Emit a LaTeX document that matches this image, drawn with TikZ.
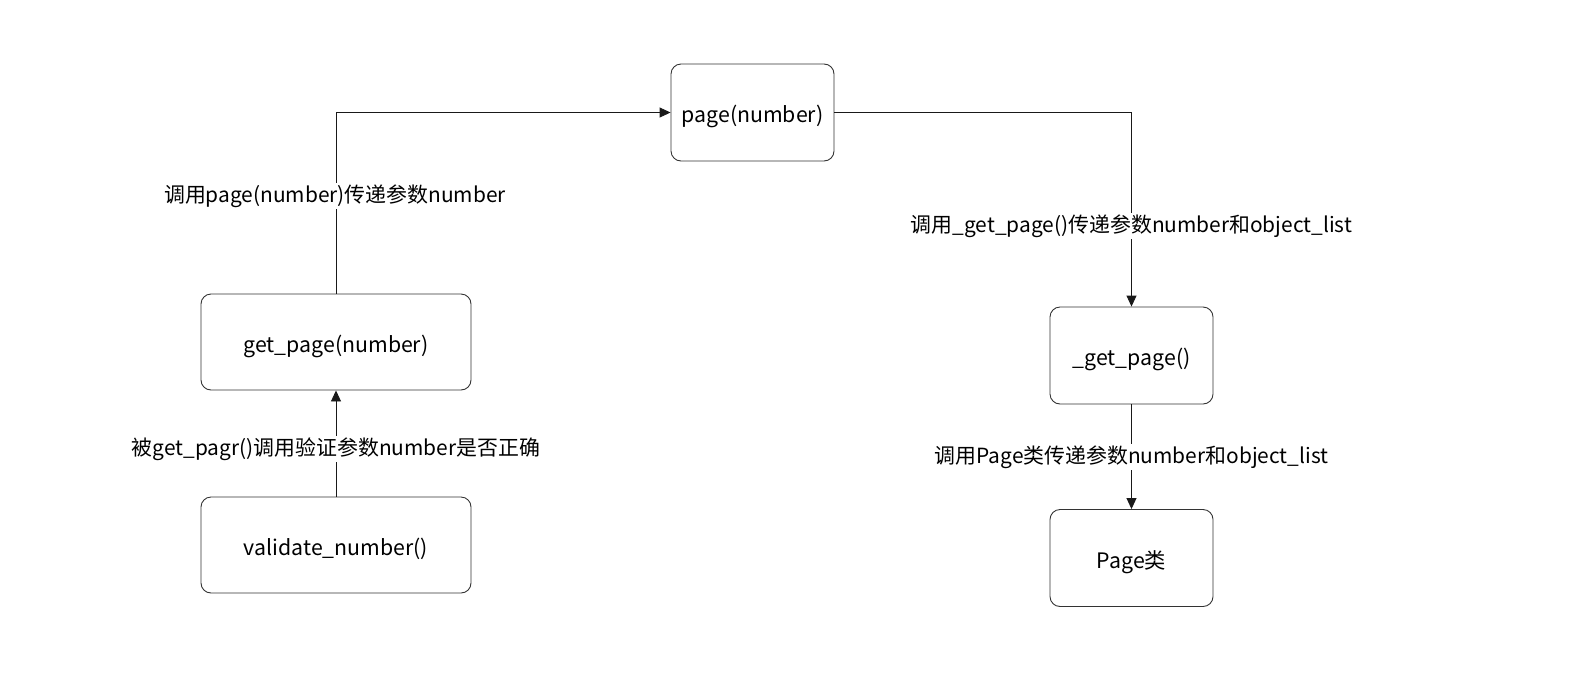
\documentclass[tikz,border=0pt]{standalone}
\usepackage{fontspec}
\setmainfont{Noto Sans CJK SC}
\usetikzlibrary{arrows.meta}
\begin{document}
\begin{tikzpicture}[x=1pt,y=-1pt,
  box/.style={draw=black!80,line width=0.9pt,rounded corners=10pt,font=\fontsize{21.3}{24}\selectfont,inner sep=0pt,text depth=0pt},
  small/.style={box,minimum width=163pt,minimum height=97pt},
  wide/.style={box,minimum width=270pt,minimum height=96pt},
  conn/.style={draw=black!90,line width=0.9pt,-{Triangle[length=11pt,width=10pt]}},
  lbl/.style={fill=white,inner sep=2pt,font=\fontsize{20.9}{24}\selectfont}]
\useasboundingbox (0,0) rectangle (1577,686);
\node[small] (page) at (752.5,112.5) {\raisebox{-3pt}{page(number)}};
\node[wide] (get) at (336,342) {\raisebox{-3pt}{get\_page(number)}};
\node[wide] (val) at (336,545) {\raisebox{-3pt}{validate\_number()}};
\node[small] (gp) at (1131.5,355.5) {\raisebox{-3pt}{\_get\_page()}};
\node[small] (pc) at (1131.5,558) {\raisebox{-3pt}{Page类}};
\coordinate (c1) at (get.north |- page.west);
\coordinate (c2) at (gp.north |- page.east);
\draw[conn] (get.north) -- (c1) -- (page.west);
\draw[conn] (page.east) -- (c2) -- (gp.north);
\draw[conn] (val.north) -- (get.south);
\draw[conn] (gp.south) -- (pc.north);
\node[lbl] (l1) at (335,196) {调用page(number)传递参数number};
\node[lbl] (l2) at (1131.5,226) {调用\_get\_page()传递参数number和object\_list};
\node[lbl] (l3) at (336,449) {被get\_pagr()调用验证参数number是否正确};
\node[lbl] (l4) at (1131.5,457) {调用Page类传递参数number和object\_list};
\end{tikzpicture}
\end{document}
